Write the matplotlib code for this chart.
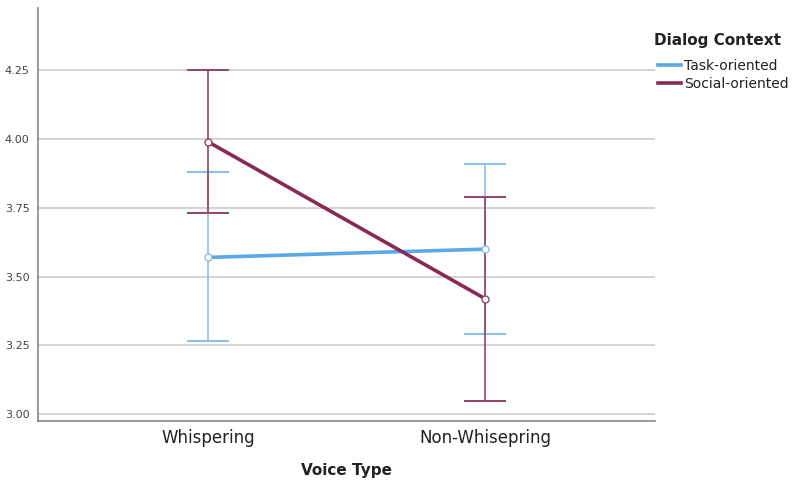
import matplotlib
matplotlib.use("Agg")
import matplotlib.pyplot as plt
from matplotlib.lines import Line2D

categories = ["Whispering", "Non-Whisepring"]
series_names = ["Task-oriented", "Social-oriented"]
task_mean = [3.57, 3.60]
task_low = [3.265, 3.29]
task_high = [3.88, 3.91]
social_mean = [3.99, 3.42]
social_low = [3.73, 3.05]
social_high = [4.25, 3.79]
yticks = [3.00, 3.25, 3.50, 3.75, 4.00, 4.25]

blue = "#5aa8e6"
blue_light = "#86c0ec"
purple = "#882a55"
purple_light = "#93416a"

fig = plt.figure(figsize=(8.0, 5.01), dpi=100)
ax = fig.add_axes([0.0475, 0.1597, 0.7715, 0.8243])

x = list(range(len(categories)))

for mean, lo, hi, col, col_l in [(task_mean, task_low, task_high, blue, blue_light),
                                  (social_mean, social_low, social_high, purple, purple_light)]:
    err = [[m - l for m, l in zip(mean, lo)], [h - m for m, h in zip(mean, hi)]]
    ax.errorbar(x, mean, yerr=err, fmt="none", ecolor=col_l, elinewidth=1.2,
                capsize=14.8, capthick=1.4, zorder=3)
    ax.plot(x, mean, color=col, lw=2.6, zorder=4, solid_capstyle="butt")
    ax.plot(x, mean, "o", ms=5, mfc="white", mec=col_l, mew=1.0, zorder=5)

ax.set_xlim(-0.614, 1.614)
ax.set_ylim(2.9757, 4.476)
ax.set_yticks(yticks)
ax.set_yticklabels([f"{v:.2f}" for v in yticks])
ax.set_xticks(x)
ax.set_xticklabels(categories)
ax.tick_params(axis="y", length=0, labelsize=8, colors="#444444", pad=6)
ax.tick_params(axis="x", length=0, labelsize=12, colors="#222222", pad=6)
ax.grid(axis="y", color="#d0d0d0", lw=1.3, zorder=0)
ax.set_axisbelow(True)
for s in ["top", "right"]:
    ax.spines[s].set_visible(False)
ax.spines["left"].set_color("#888888")
ax.spines["bottom"].set_color("#888888")
ax.spines["left"].set_linewidth(1.2)
ax.spines["bottom"].set_linewidth(1.2)
ax.set_xlabel("Voice Type", fontsize=11, fontweight="bold", labelpad=11, color="#222222")

fig.text(0.8175, 1 - 40 / 501, "Dialog Context", fontsize=11, fontweight="bold",
         color="#222222", ha="left", va="center")
handles = [Line2D([0], [0], color=blue, lw=2.6), Line2D([0], [0], color=purple, lw=2.6)]
leg = fig.legend(handles, series_names, loc="upper left", bbox_to_anchor=(0.817, 1 - 55 / 501),
                 frameon=False, fontsize=10, borderaxespad=0, borderpad=0.3,
                 handlelength=1.7, handletextpad=0.2, labelspacing=0.3)
for t in leg.get_texts():
    t.set_color("#222222")

fig.savefig("out.png", dpi=100)
